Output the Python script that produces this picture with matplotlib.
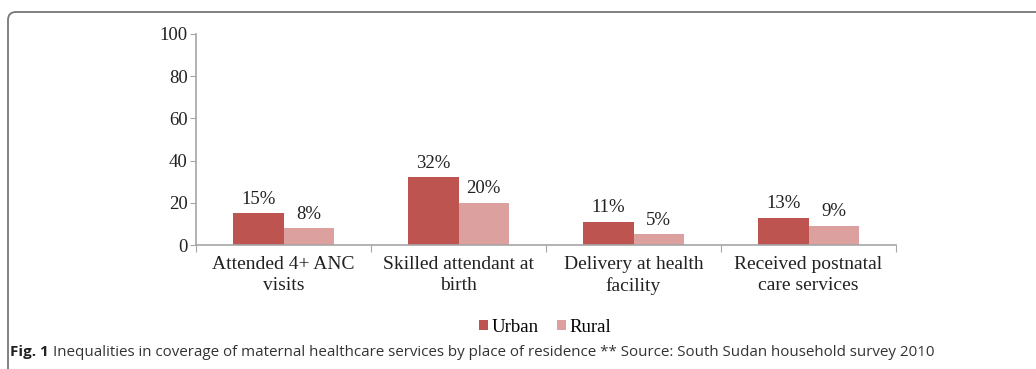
import numpy as np
import matplotlib
matplotlib.use("Agg")
import matplotlib.pyplot as plt
from matplotlib.patches import FancyBboxPatch
from matplotlib.transforms import IdentityTransform

# data
categories = ["Attended 4+ ANC\nvisits", "Skilled attendant at\nbirth",
              "Delivery at health\nfacility", "Received postnatal\ncare services"]
urban = [15, 32, 11, 13]
rural = [8, 20, 5, 9]
series_names = ["Urban", "Rural"]
y_ticks = [0, 20, 40, 60, 80, 100]

URBAN_COLOR = "#BD5450"
RURAL_COLOR = "#DCA09E"
AXIS_GRAY = "#A6A6A6"
SERIF = "Liberation Serif"

W, H = 1036, 369
fig = plt.figure(figsize=(W / 100, H / 100), dpi=100)
fig.patch.set_facecolor("white")

# panel frame in pixels: rounded top-left corner, open at right/bottom
frame = FancyBboxPatch((8, -60), 1200, (H - 12) + 60,
                       boxstyle="round,pad=0,rounding_size=8",
                       transform=IdentityTransform(), facecolor="none",
                       edgecolor="#777777", linewidth=1.3, clip_on=False)
fig.patches.append(frame)

ax = fig.add_axes([196 / W, 1 - 245 / H, 700 / W, 211 / H])

x = np.arange(len(categories)) + 0.5
bw = 0.286
b1 = ax.bar(x - bw / 2, urban, bw, color=URBAN_COLOR, label=series_names[0])
b2 = ax.bar(x + bw / 2, rural, bw, color=RURAL_COLOR, label=series_names[1])

for bars, vals in ((b1, urban), (b2, rural)):
    for rect, v in zip(bars, vals):
        ax.annotate(f"{v}%", (rect.get_x() + rect.get_width() / 2, v),
                    xytext=(0, 4), textcoords="offset points",
                    ha="center", va="bottom", fontsize=13.5, family=SERIF,
                    color="#222222")

ax.set_xlim(0, len(categories))
ax.set_ylim(0, 100)
ax.set_yticks(y_ticks)
ax.set_yticklabels([str(t) for t in y_ticks], family=SERIF, fontsize=13.5,
                   color="#222222")

# category labels centred, tick marks at category boundaries
ax.set_xticks(np.arange(len(categories) + 1))
ax.set_xticklabels([])
ax.set_xticks(x, minor=True)
ax.set_xticklabels(categories, minor=True, family=SERIF, fontsize=14,
                   color="#222222", linespacing=1.3)
ax.tick_params(axis="x", which="minor", length=0, pad=8)
ax.tick_params(axis="x", which="major", length=5, color=AXIS_GRAY, direction="out")
ax.tick_params(axis="y", length=4, color=AXIS_GRAY, direction="out", pad=2)

for side in ("top", "right"):
    ax.spines[side].set_visible(False)
for side in ("left", "bottom"):
    ax.spines[side].set_color(AXIS_GRAY)
    ax.spines[side].set_linewidth(1.2)

leg = fig.legend(handles=[b1, b2], loc="center", bbox_to_anchor=(545 / W, 1 - 327 / H),
                 ncol=2, frameon=False, handlelength=0.5, handleheight=0.5,
                 handletextpad=0.2, columnspacing=0.95,
                 prop={"family": SERIF, "size": 13.5})

cap = fig.text(10 / W, 1 - 352 / H, "Fig. 1", fontsize=10.9, family="Open Sans",
               fontweight="bold", va="center", ha="left", color="#222222")
fig.canvas.draw()
ext = cap.get_window_extent()
fig.text((ext.x1 + 4) / W, 1 - 352 / H,
         "Inequalities in coverage of maternal healthcare services by place of residence "
         "** Source: South Sudan household survey 2010",
         fontsize=10.9, family="Open Sans", va="center", ha="left", color="#333333")

fig.savefig("out.png", dpi=100, facecolor="white")
